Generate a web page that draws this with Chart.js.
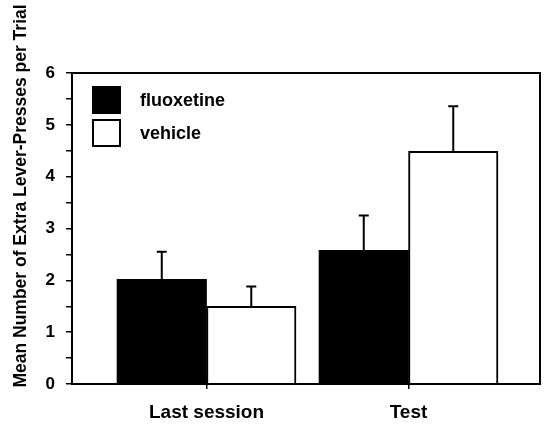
<!DOCTYPE html>
<html>
<head>
<meta charset="utf-8">
<script src="https://cdn.jsdelivr.net/npm/chart.js@4"></script>
<style>
  html, body { margin: 0; padding: 0; background: #fff; }
  canvas { display: block; }
</style>
</head>
<body>
<canvas id="leverChart" width="545" height="429"></canvas>
<script>
// ------------------------------
// Data
// ------------------------------
const categories = ['Last session', 'Test'];
const fluoxetine = [2.02, 2.58];
const fluoxetineErr = [0.53, 0.67];
const vehicle = [1.50, 4.49];
const vehicleErr = [0.38, 0.87];
const yTicks = [0, 1, 2, 3, 4, 5, 6];

const yTitle = 'Mean Number of Extra Lever-Presses per Trial';
const FONT = '"Liberation Sans", Arial, Helvetica, sans-serif';

// ------------------------------
// Error bars (upper only, with a cap)
// ------------------------------
const errorBars = {
  id: 'errorBars',
  afterDatasetsDraw(chart) {
    const ctx = chart.ctx;
    const y = chart.scales.y;
    chart.data.datasets.forEach((ds, i) => {
      const meta = chart.getDatasetMeta(i);
      meta.data.forEach((bar, j) => {
        const top = y.getPixelForValue(ds.data[j].y + ds.errors[j]);
        ctx.save();
        ctx.strokeStyle = '#000';
        ctx.lineWidth = 2;
        ctx.beginPath();
        ctx.moveTo(bar.x, bar.y);
        ctx.lineTo(bar.x, top);
        ctx.moveTo(bar.x - 5, top);
        ctx.lineTo(bar.x + 5, top);
        ctx.stroke();
        ctx.restore();
      });
    });
  }
};

// ------------------------------
// Frame, y title and inset legend
// ------------------------------
const decorations = {
  id: 'decorations',
  beforeDraw(chart) {
    const ctx = chart.ctx;
    ctx.save();
    ctx.fillStyle = '#fff';
    ctx.fillRect(0, 0, chart.width, chart.height);
    ctx.restore();
  },
  afterDraw(chart) {
    const { ctx, chartArea: a } = chart;
    ctx.save();
    // box around plot
    ctx.strokeStyle = '#000';
    ctx.lineWidth = 2;
    ctx.strokeRect(a.left, a.top, a.right - a.left, a.bottom - a.top);

    // rotated axis title
    ctx.translate(21, 196);
    ctx.rotate(-Math.PI / 2);
    ctx.fillStyle = '#000';
    ctx.font = 'bold 17.5px ' + FONT;
    ctx.textAlign = 'center';
    ctx.textBaseline = 'middle';
    ctx.fillText(yTitle, 0, 0);
    ctx.restore();

    // legend inside the plot
    ctx.save();
    ctx.font = 'bold 18px ' + FONT;
    ctx.textBaseline = 'middle';
    chart.data.datasets.forEach((ds, i) => {
      const bx = a.left + 21, by = a.top + 14 + i * 33;
      ctx.fillStyle = ds.backgroundColor;
      ctx.fillRect(bx, by, 27, 26);
      ctx.strokeStyle = '#000';
      ctx.lineWidth = 2;
      ctx.strokeRect(bx, by, 27, 26);
      ctx.fillStyle = '#000';
      ctx.fillText(ds.label, bx + 47, by + 14);
    });
    ctx.restore();
  }
};

const toPoints = (vals) => vals.map((v, i) => ({ x: i, y: v }));

new Chart(document.getElementById('leverChart'), {
  type: 'bar',
  data: {
    datasets: [{
      label: 'fluoxetine',
      data: toPoints(fluoxetine),
      errors: fluoxetineErr,
      backgroundColor: '#000',
      borderColor: '#000',
      borderWidth: 0
    }, {
      label: 'vehicle',
      data: toPoints(vehicle),
      errors: vehicleErr,
      backgroundColor: '#fff',
      borderColor: '#000',
      borderWidth: 2
    }]
  },
  options: {
    responsive: false,
    devicePixelRatio: 1,
    animation: false,
    barThickness: 89.5,
    layout: { padding: { top: 73, right: 5, left: 0, bottom: 0 } },
    plugins: { legend: { display: false }, tooltip: { enabled: false } },
    scales: {
      x: {
        type: 'linear',
        offset: false,
        min: -0.666,
        max: 1.651,
        afterBuildTicks: (s) => { s.ticks = categories.map((c, i) => ({ value: i })); },
        afterFit: (s) => { s.height = 45; },
        ticks: {
          callback: (v) => categories[v],
          color: '#000',
          font: { family: FONT, size: 19, weight: 'bold' },
          padding: 12,
          maxRotation: 0
        },
        grid: { offset: false, drawOnChartArea: false, color: '#000', tickLength: 5, lineWidth: 1.5 },
        border: { color: '#000', width: 2 }
      },
      y: {
        min: 0,
        max: 6,
        afterBuildTicks: (s) => {
          const t = [];
          yTicks.forEach((v, i) => {
            t.push({ value: v });
            if (i < yTicks.length - 1) t.push({ value: v + 0.5 });
          });
          s.ticks = t;
        },
        afterFit: (s) => { s.width = 72; },
        ticks: {
          callback: (v) => (yTicks.includes(v) ? v : ''),
          color: '#000',
          font: { family: FONT, size: 17, weight: 'bold' },
          padding: 11
        },
        grid: { drawOnChartArea: false, color: '#000', tickLength: 6, lineWidth: 1.5 },
        border: { color: '#000', width: 2 }
      }
    }
  },
  plugins: [decorations, errorBars]
});
</script>
</body>
</html>
